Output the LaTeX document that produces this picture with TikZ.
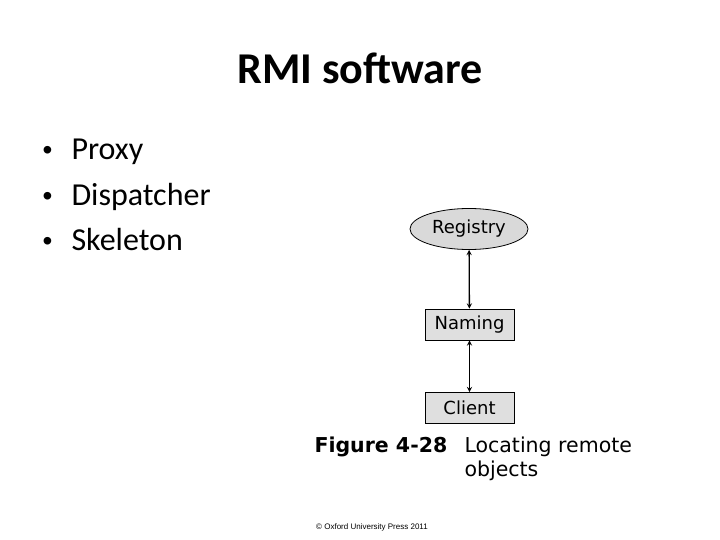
\documentclass[tikz,border=0pt]{standalone}
\usepackage{fontspec}
\setmainfont{Carlito}
\newfontfamily\figfont{DejaVu Sans}
\newfontfamily\pressfont{Liberation Sans}
\usetikzlibrary{shapes.geometric,positioning}
\begin{document}
\begin{tikzpicture}[x=1pt, y=-1pt, >=stealth, auto,
  box/.style={draw, thick, fill=gray!25, minimum width=89pt, minimum height=31pt, font=\figfont\fontsize{18}{21}\selectfont},
  oval/.style={draw, thick, ellipse, fill=gray!30, minimum width=118pt, minimum height=41pt, inner sep=1pt, font=\figfont\fontsize{18}{21}\selectfont},
  item/.style={anchor=base west, font=\fontsize{32}{38}\selectfont},
  dot/.style={anchor=base west, font=\pressfont\fontsize{28}{32}\selectfont},
  figcap/.style={anchor=base west, font=\figfont\fontsize{20.5}{24}\selectfont},
  link/.style={<->, line width=1.3pt}]
\useasboundingbox (0,0) rectangle (720,540);
\node[font=\bfseries\fontsize{44}{52}\selectfont] (title) at (360,68) {RMI software};
\foreach \y/\txt [count=\i] in {160/Proxy, 206/Dispatcher, 251/Skeleton} {
  \node[dot] (d\i) at (39,\y) {•};
  \node[item] (i\i) at (68,\y) {\txt};
}
\node[oval] (registry) at (469,229) {Registry};
\node[box] (naming) at (469.5,324.5) {Naming};
\node[box] (client) at (469.5,408) {Client};
\draw[link] (registry) -- (naming);
\draw[link] (naming) -- (client);
\node[figcap, font=\figfont\bfseries\fontsize{20.5}{24}\selectfont] (fig) at (311,452) {Figure 4-28};
\node[figcap] (cap1) at (461,452) {Locating remote};
\node[figcap] (cap2) at (461,476) {objects};
\node[font=\pressfont\fontsize{8}{10}\selectfont] (press) at (372,527) {\textcopyright{} Oxford University Press 2011};
\end{tikzpicture}
\end{document}
